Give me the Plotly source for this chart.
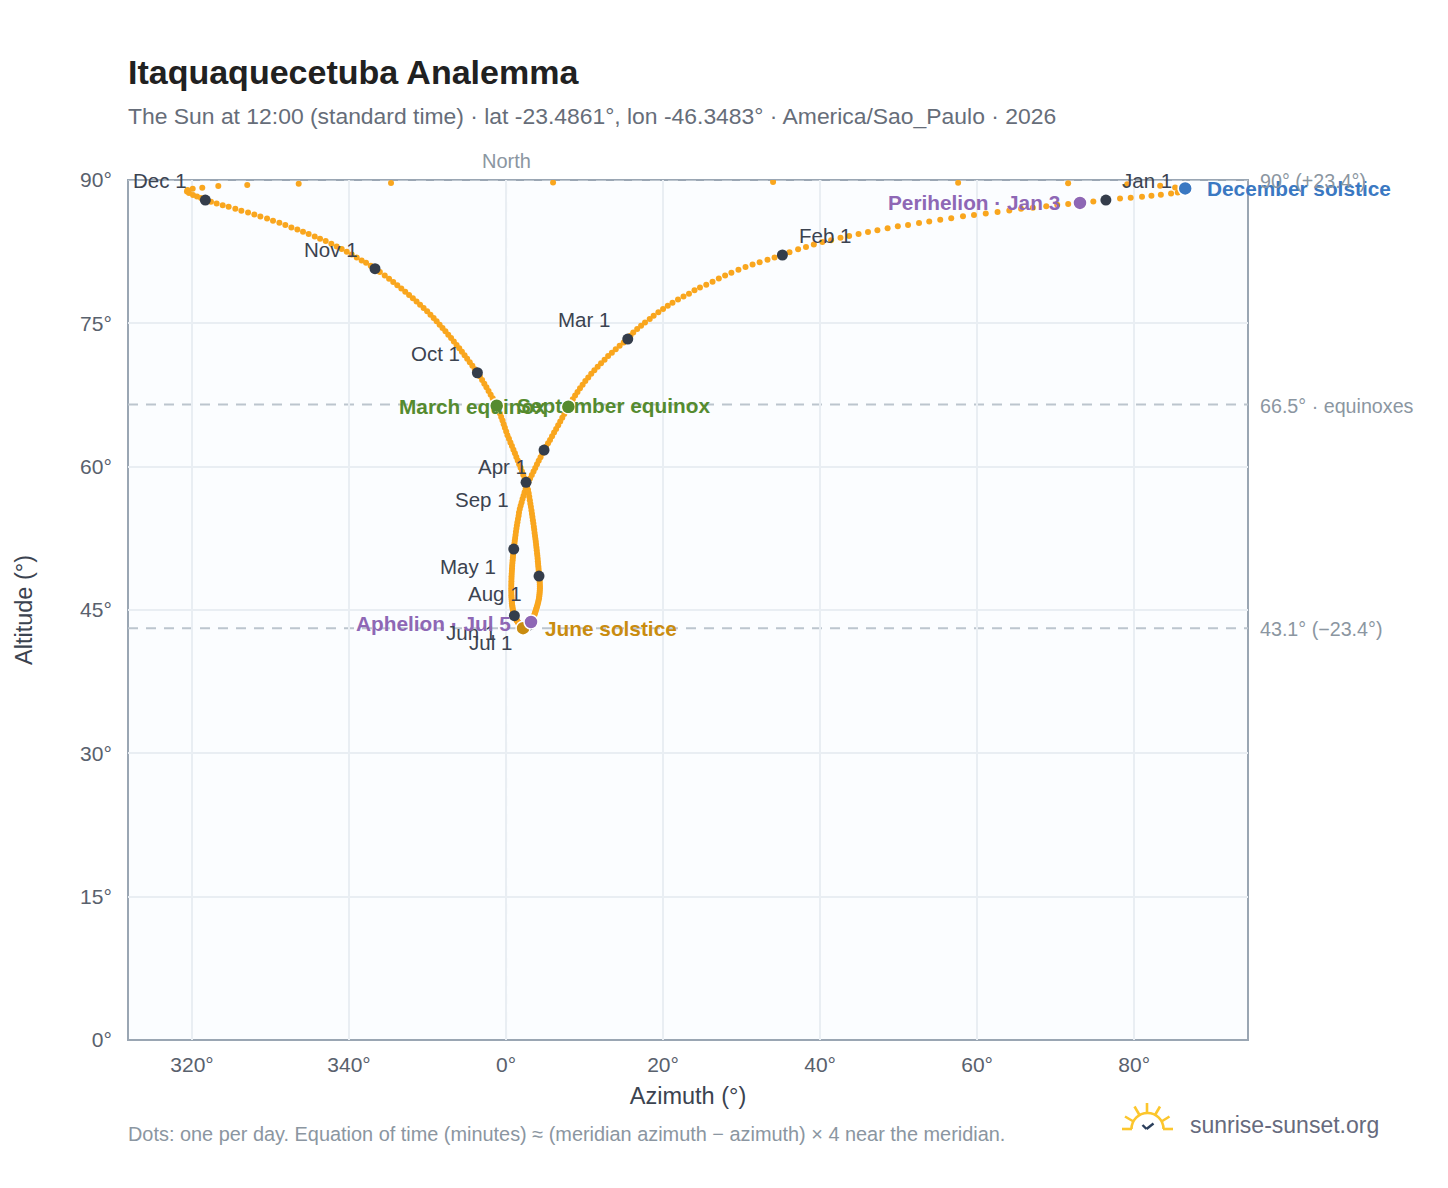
import plotly.graph_objects as go

# Azimuth (degrees, signed about north) and altitude read per day, month by month
az_jan = [76.4,74.8,73.1,71.6,70.2,68.8,67.1,65.6,64.1,62.6,61.1,59.6,58.2,56.7,55.3,53.9,52.6,51.2,49.9,48.6,47.3,46.1,44.9,43.7,42.6,41.4,40.3,39.2,38.2,37.2,36.1]
alt_jan = [87.9,87.75,87.6,87.5,87.4,87.25,87.1,87.0,86.8,86.65,86.5,86.35,86.2,86.0,85.85,85.65,85.5,85.3,85.15,84.95,84.75,84.55,84.35,84.15,83.95,83.7,83.5,83.25,83.0,82.75,82.45]
az_feb = [35.2,34.2,33.3,32.3,31.4,30.5,29.6,28.7,27.9,27.1,26.3,25.5,24.7,24.0,23.3,22.6,21.9,21.2,20.6,20.0,19.4,18.8,18.3,17.7,17.2,16.7,16.2,15.85]
alt_feb = [82.15,81.9,81.65,81.4,81.15,80.9,80.6,80.3,80.0,79.7,79.35,79.05,78.75,78.45,78.1,77.8,77.5,77.15,76.85,76.5,76.15,75.8,75.45,75.1,74.75,74.4,74.05,73.7]
az_mar = [15.5,14.98,14.47,13.97,13.48,13.0,12.55,12.1,11.67,11.25,10.85,10.47,10.1,9.75,9.42,9.1,8.8,8.5,8.22,7.94,7.68,7.42,7.16,6.9,6.64,6.38,6.12,5.86,5.6,5.35,5.09]
alt_mar = [73.35,73.0,72.65,72.29,71.93,71.57,71.2,70.83,70.46,70.09,69.72,69.34,68.96,68.58,68.2,67.82,67.44,67.05,66.66,66.27,65.89,65.51,65.12,64.73,64.34,63.95,63.57,63.18,62.8,62.44,62.08]
az_apr = [4.84,4.62,4.39,4.16,3.94,3.72,3.5,3.28,3.06,2.85,2.66,2.5,2.36,2.23,2.1,1.98,1.86,1.75,1.65,1.6,1.52,1.45,1.38,1.32,1.26,1.21,1.16,1.11,1.07,1.02]
alt_apr = [61.74,61.37,60.99,60.61,60.24,59.87,59.5,59.13,58.76,58.4,58.04,57.68,57.32,56.96,56.61,56.26,55.91,55.56,55.21,54.87,54.53,54.19,53.85,53.52,53.19,52.86,52.54,52.26,51.97,51.67]
az_may = [0.98,0.94,0.9,0.87,0.84,0.81,0.78,0.76,0.74,0.72,0.7,0.69,0.68,0.67,0.66,0.66,0.66,0.67,0.68,0.69,0.71,0.73,0.75,0.78,0.81,0.84,0.87,0.91,0.95,0.99,1.03]
alt_may = [51.38,51.08,50.78,50.49,50.2,49.91,49.63,49.35,49.07,48.8,48.53,48.27,48.01,47.75,47.5,47.25,47.01,46.78,46.55,46.33,46.11,45.9,45.7,45.51,45.33,45.16,45.0,44.85,44.72,44.6,44.49]
az_jun = [1.06,1.12,1.18,1.24,1.3,1.36,1.42,1.48,1.54,1.6,1.66,1.72,1.78,1.84,1.9,1.95,2.0,2.05,2.1,2.14,2.17,2.23,2.29,2.35,2.42,2.49,2.56,2.63,2.7,2.77]
alt_jun = [44.4,44.3,44.2,44.1,44.01,43.92,43.84,43.76,43.69,43.62,43.55,43.49,43.43,43.38,43.33,43.29,43.25,43.2,43.16,43.13,43.1,43.1,43.1,43.11,43.13,43.15,43.18,43.22,43.27,43.33]
az_jul = [2.85,2.93,3.01,3.1,3.18,3.27,3.35,3.43,3.5,3.56,3.62,3.67,3.73,3.79,3.85,3.92,3.98,4.04,4.1,4.15,4.2,4.23,4.26,4.28,4.3,4.31,4.31,4.3,4.29,4.27,4.24]
alt_jul = [43.4,43.47,43.55,43.64,43.74,43.85,43.97,44.09,44.22,44.36,44.5,44.65,44.8,44.96,45.13,45.3,45.48,45.66,45.85,46.04,46.24,46.44,46.65,46.86,47.07,47.28,47.47,47.68,47.9,48.12,48.33]
az_aug = [4.2,4.18,4.16,4.14,4.11,4.08,4.05,4.02,3.99,3.95,3.91,3.87,3.83,3.79,3.74,3.69,3.64,3.59,3.54,3.48,3.42,3.36,3.3,3.24,3.17,3.1,3.03,2.96,2.88,2.8,2.67]
alt_aug = [48.55,48.8,49.05,49.31,49.57,49.84,50.11,50.39,50.67,50.95,51.24,51.53,51.83,52.13,52.44,52.75,53.07,53.39,53.72,54.05,54.39,54.73,55.07,55.42,55.77,56.13,56.49,56.85,57.21,57.58,57.99]
az_sep = [2.55,2.38,2.2,2.03,1.85,1.67,1.49,1.31,1.13,0.94,0.75,0.56,0.37,0.18,0.02,-0.15,-0.3,-0.45,-0.62,-0.79,-0.98,-1.19,-1.44,-1.7,-1.96,-2.23,-2.5,-2.77,-3.05,-3.34]
alt_sep = [58.36,58.74,59.12,59.5,59.88,60.26,60.64,61.02,61.4,61.78,62.16,62.54,62.92,63.3,63.68,64.06,64.44,64.82,65.2,65.58,65.96,66.38,66.76,67.15,67.53,67.91,68.3,68.68,69.06,69.45]
az_oct = [-3.65,-3.97,-4.29,-4.62,-4.95,-5.28,-5.62,-5.96,-6.3,-6.65,-7.0,-7.36,-7.72,-8.09,-8.46,-8.84,-9.22,-9.63,-10.05,-10.5,-10.95,-11.4,-11.87,-12.35,-12.84,-13.34,-13.85,-14.37,-14.9,-15.45,-16.07]
alt_oct = [69.83,70.2,70.57,70.94,71.3,71.66,72.02,72.38,72.74,73.1,73.46,73.81,74.16,74.51,74.86,75.21,75.56,75.91,76.26,76.6,76.94,77.28,77.62,77.96,78.3,78.64,78.98,79.32,79.66,80.0,80.36]
az_nov = [-16.69,-17.24,-17.83,-18.39,-19.02,-19.66,-20.29,-20.93,-21.57,-22.25,-22.97,-23.69,-24.37,-25.14,-25.86,-26.58,-27.34,-28.11,-28.87,-29.68,-30.44,-31.29,-32.06,-32.86,-33.71,-34.48,-35.33,-36.09,-36.86,-37.58]
alt_nov = [80.72,81.03,81.34,81.58,81.9,82.21,82.49,82.77,83.05,83.33,83.61,83.85,84.1,84.34,84.58,84.83,85.04,85.28,85.53,85.74,85.98,86.19,86.4,86.61,86.78,86.99,87.2,87.37,87.55,87.72]
az_dec = [-38.3,-38.85,-39.36,-39.87,-40.38,-40.64,-40.57,-39.91,-38.69,-36.65,-32.96,-26.41,-14.65,5.99,34.01,57.58,71.59,79.11,83.31,85.22,86.5,86.55,86.3,86.0,85.55,84.7,83.4,82.2,81.0,79.56,78.2]
alt_dec = [87.9,88.11,88.27,88.43,88.63,88.79,88.95,89.09,89.19,89.37,89.47,89.61,89.68,89.73,89.79,89.71,89.65,89.55,89.4,89.21,89.12,89.05,88.98,88.87,88.7,88.6,88.46,88.35,88.25,88.14,88.07]

months = ["Jan", "Feb", "Mar", "Apr", "May", "Jun", "Jul", "Aug", "Sep", "Oct", "Nov", "Dec"]
az_months = [az_jan, az_feb, az_mar, az_apr, az_may, az_jun, az_jul, az_aug, az_sep, az_oct, az_nov, az_dec]
alt_months = [alt_jan, alt_feb, alt_mar, alt_apr, alt_may, alt_jun, alt_jul, alt_aug, alt_sep, alt_oct, alt_nov, alt_dec]

# label offsets in pixels from the first-of-month marker
month_shift_x = [41, 43, -44, -42, -46, -43, -38, -44, -44, -42, -44, -45]
month_shift_y = [20, 20, 20, -16, -17, -17, -17, -17, -17, 19, 19, 20]

x_tickvals = [-40, -20, 0, 20, 40, 60, 80]
x_ticktext = ["320°", "340°", "0°", "20°", "40°", "60°", "80°"]
y_tickvals = [0, 15, 30, 45, 60, 75, 90]
y_ticktext = ["0°", "15°", "30°", "45°", "60°", "75°", "90°"]

# month index, day-of-month, colour, label, anchor, shift x, shift y
events = [
    (2, 20, "#558b2f", "March equinox", "right", -21, 0),
    (8, 22, "#558b2f", "September equinox", "left", 19, 0),
    (5, 21, "#c98c10", "June solstice", "left", 21, 0),
    (11, 21, "#3a78c2", "December solstice", "left", 21, 0),
    (0, 3, "#8e67b5", "Perihelion · Jan 3", "right", -19, 0),
    (6, 5, "#8e67b5", "Aphelion · Jul 5", "right", -19, -1),
]
ref_alts = [(90, "90° (+23.4°)"), (66.5, "66.5° · equinoxes"), (43.1, "43.1° (−23.4°)")]

PL, PR, PT, PB = 128, 1248, 180, 1040
def px(x): return (x - PL) / (PR - PL)
def py(y): return (PB - y) / (PB - PT)

fig = go.Figure()
all_az = [v for m in az_months for v in m]
all_alt = [v for m in alt_months for v in m]
fig.add_trace(go.Scatter(x=all_az, y=all_alt, mode="markers", hoverinfo="x+y",
                         marker=dict(size=6, color="#f9a61e"), showlegend=False))
fig.add_trace(go.Scatter(x=[m[0] for m in az_months], y=[m[0] for m in alt_months], mode="markers",
                         marker=dict(size=11, color="#343d4b"), showlegend=False))

for m, d, col, lab, anc, sx, sy in events:
    ax, ay = az_months[m][d - 1], alt_months[m][d - 1]
    fig.add_trace(go.Scatter(x=[ax], y=[ay], mode="markers", showlegend=False,
                             marker=dict(size=14, color=col, line=dict(color="white", width=1.5))))

annotations = []
for i, mname in enumerate(months):
    annotations.append(dict(x=az_months[i][0], y=alt_months[i][0], xref="x", yref="y", text=f"{mname} 1",
                            showarrow=False, xshift=month_shift_x[i], yshift=month_shift_y[i], borderpad=0,
                            xanchor="center", yanchor="middle",
                            font=dict(size=20.5, color="#3b4350")))
for m, d, col, lab, anc, sx, sy in events:
    annotations.append(dict(x=az_months[m][d - 1], y=alt_months[m][d - 1], xref="x", yref="y",
                            text=f"<b>{lab}</b>", showarrow=False, xshift=sx, yshift=sy, borderpad=0,
                            xanchor=anc, yanchor="middle", font=dict(size=20.8, color=col)))
for val, lab in ref_alts:
    annotations.append(dict(x=1, y=val, xref="paper", yref="y", text=lab, showarrow=False, xanchor="left",
                            xshift=11, yshift=-1, yanchor="middle", borderpad=0, font=dict(size=19.7, color="#8b96a1")))
annotations += [
    dict(x=0, y=1, xref="x", yref="paper", text="North", showarrow=False, yanchor="middle", yshift=19, borderpad=0,
         font=dict(size=20, color="#8b96a1")),
    dict(x=px(128), y=py(72), xref="paper", yref="paper", xanchor="left", yanchor="middle", showarrow=False, borderpad=0, xshift=-1,
         text="<b>Itaquaquecetuba Analemma</b>", font=dict(size=34, color="#212121")),
    dict(x=px(128), y=py(115.5), xref="paper", yref="paper", xanchor="left", yanchor="middle", showarrow=False, borderpad=0, xshift=-1,
         text="The Sun at 12:00 (standard time) · lat -23.4861°, lon -46.3483° · America/Sao_Paulo · 2026",
         font=dict(size=22.9, color="#666d79")),
    dict(x=px(128), y=py(1133.5), xref="paper", yref="paper", xanchor="left", yanchor="middle", showarrow=False, borderpad=0, xshift=-1,
         text="Dots: one per day. Equation of time (minutes) ≈ (meridian azimuth − azimuth) × 4 near the meridian.",
         font=dict(size=19.9, color="#8b96a1")),
    dict(x=px(1190), y=py(1125), xref="paper", yref="paper", xanchor="left", yanchor="middle", showarrow=False, borderpad=0, xshift=-1,
         text="sunrise-sunset.org", font=dict(size=23, color="#666a7d")),
]

dash_col = "#bcc5ce"
# plot frame, centred on the plot-area edge
shapes = [dict(type="rect", xref="paper", yref="paper", x0=0, x1=1, y0=0, y1=1, layer="below",
               line=dict(color="#9aa6b3", width=2))]
for val, _ in ref_alts:
    shapes.append(dict(type="line", xref="paper", yref="y", x0=0, x1=1, y0=val, y1=val, layer="below",
                       line=dict(color=dash_col, width=2, dash="10px,8px")))
shapes.append(dict(type="line", xref="x", yref="paper", x0=0, x1=0, y0=0, y1=1, layer="below",
                   line=dict(color=dash_col, width=2, dash="10px,8px")))

# logo, in page pixels
sun = "#fcc62d"
def logo_line(x0, y0, x1, y1, color=sun, w=2.6):
    shapes.append(dict(type="line", xref="paper", yref="paper", x0=px(x0), y0=py(y0), x1=px(x1), y1=py(y1),
                       line=dict(color=color, width=w)))
for seg in [(1122, 1129, 1132, 1129), (1163, 1129, 1173, 1129), (1147, 1103, 1147, 1112),
            (1134.5, 1106.5, 1139.5, 1115), (1125, 1116.5, 1133.5, 1121.5),
            (1160, 1106.5, 1155, 1115), (1169.5, 1116.5, 1161.5, 1121.5)]:
    logo_line(*seg)
k = 0.5523 * 16
cx, cy = 1147.5, 1129
arc = (f"M {px(cx-16)} {py(cy)} C {px(cx-16)} {py(cy-k)} {px(cx-k)} {py(cy-16)} {px(cx)} {py(cy-16)} "
       f"C {px(cx+k)} {py(cy-16)} {px(cx+16)} {py(cy-k)} {px(cx+16)} {py(cy)}")
shapes.append(dict(type="path", xref="paper", yref="paper", path=arc, line=dict(color=sun, width=2.6)))
logo_line(1142.5, 1125, 1146.5, 1129, "#2b3f5c", 2.4)
logo_line(1146.5, 1129, 1153.5, 1123.5, "#2b3f5c", 2.4)

axis_common = dict(showgrid=True, gridcolor="#e9eef3", gridwidth=2, zeroline=False,
                   showline=False,
                   ticks="outside", tickcolor="rgba(0,0,0,0)",
                   tickfont=dict(size=21, color="#59616d"))
fig.update_layout(
    width=1448, height=1188, autosize=False,
    margin=dict(l=PL, r=1448 - PR, t=PT, b=1188 - PB),
    paper_bgcolor="white", plot_bgcolor="#fbfdff",
    font=dict(family="Liberation Sans, Arial, sans-serif"),
    xaxis=dict(axis_common, range=[-48.15, 94.5], tickvals=x_tickvals, ticktext=x_ticktext, ticklen=6,
               title=dict(text="Azimuth (°)", font=dict(size=23.5, color="#3b4350"), standoff=12)),
    yaxis=dict(axis_common, range=[0, 90], tickvals=y_tickvals, ticktext=y_ticktext, ticklen=11,
               title=dict(text="Altitude (°)", font=dict(size=23.5, color="#3b4350"), standoff=40)),
    annotations=annotations, shapes=shapes, showlegend=False, hovermode="closest",
)
fig.write_html("out.html", post_script="document.body.style.margin='0';", config={"displayModeBar": False})
